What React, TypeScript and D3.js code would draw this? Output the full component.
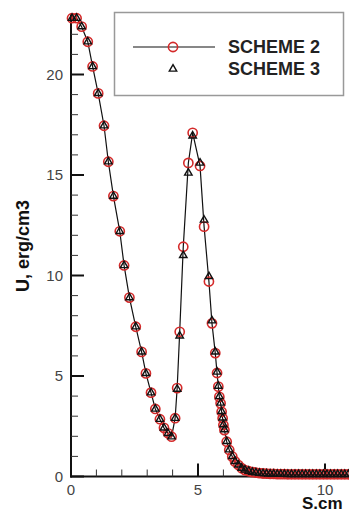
import React from "react";
import * as d3 from "d3";

const s2X = [0.04, 0.22, 0.42, 0.66, 0.85, 1.07, 1.3, 1.47, 1.67, 1.92, 2.09, 2.3, 2.55, 2.78, 2.95, 3.15, 3.32, 3.5, 3.66, 3.82, 3.96, 4.1, 4.18, 4.28, 4.42, 4.62, 4.79, 5.08, 5.24, 5.43, 5.55, 5.68, 5.75, 5.8, 5.84, 5.89, 5.93, 5.97, 6.0, 6.04, 6.13, 6.23, 6.35, 6.46, 6.59, 6.72, 6.85, 7.0, 7.14, 7.28, 7.42, 7.56, 7.7, 7.84, 7.98, 8.12, 8.26, 8.4, 8.54, 8.68, 8.82, 8.96, 9.1, 9.24, 9.38, 9.52, 9.66, 9.8, 9.94, 10.08, 10.22, 10.36, 10.5, 10.64, 10.78, 10.92];
const s2Y = [22.8, 22.8, 22.38, 21.63, 20.4, 19.06, 17.45, 15.66, 13.95, 12.2, 10.5, 8.9, 7.45, 6.2, 5.13, 4.17, 3.36, 2.85, 2.42, 2.15, 1.98, 2.9, 4.4, 7.2, 11.43, 15.6, 17.1, 15.45, 12.43, 9.7, 7.62, 6.14, 5.15, 4.47, 3.96, 3.64, 3.22, 2.9, 2.56, 2.31, 1.73, 1.32, 0.99, 0.74, 0.57, 0.41, 0.32, 0.26, 0.22, 0.19, 0.17, 0.15, 0.14, 0.13, 0.13, 0.12, 0.12, 0.12, 0.11, 0.11, 0.11, 0.11, 0.11, 0.11, 0.11, 0.11, 0.11, 0.11, 0.11, 0.11, 0.11, 0.11, 0.11, 0.11, 0.11, 0.11];
const s3Y = [22.8, 22.8, 22.38, 21.63, 20.4, 19.06, 17.45, 15.66, 13.95, 12.2, 10.5, 8.9, 7.45, 6.2, 5.13, 4.17, 3.36, 2.85, 2.42, 2.15, 1.98, 2.9, 4.35, 7.0, 11.0, 15.1, 16.95, 15.6, 12.76, 9.95, 7.75, 6.2, 5.2, 4.5, 3.98, 3.66, 3.24, 2.92, 2.58, 2.33, 1.75, 1.33, 1.0, 0.75, 0.58, 0.42, 0.33, 0.27, 0.22, 0.19, 0.17, 0.15, 0.14, 0.13, 0.13, 0.12, 0.12, 0.12, 0.11, 0.11, 0.11, 0.11, 0.11, 0.11, 0.11, 0.11, 0.11, 0.11, 0.11, 0.11, 0.11, 0.11, 0.11, 0.11, 0.11, 0.11];

const xMajor = [0, 5, 10];
const xMinor = [1, 2, 3, 4, 6, 7, 8, 9, 11];
const yMajor = [0, 5, 10, 15, 20];
const yMinor = [1, 2, 3, 4, 6, 7, 8, 9, 11, 12, 13, 14, 16, 17, 18, 19, 21, 22];
const legendLabels = ["SCHEME 2", "SCHEME 3"];

const W = 349, H = 514;
const RED = "#d42a2a";

export default function App() {
  const x = d3.scaleLinear().domain([0, 11]).range([71, 350.4]);
  const y = d3.scaleLinear().domain([0, 23]).range([476.5, 14.2]);
  const pts2 = s2X.map((s, i) => [s, s2Y[i]] as [number, number]);
  const pts3 = s2X.map((s, i) => [s, s3Y[i]] as [number, number]);
  const line = d3.line<[number, number]>().x(d => x(d[0])).y(d => y(d[1]));
  const tri = d3.symbol().type(d3.symbolTriangle).size(24)() as string;
  const font = "Liberation Sans, Arial, sans-serif";
  return (
    <svg width={W} height={H} style={{ position: "absolute", left: 0, top: 0 }}>
      <rect width={W} height={H} fill="#fff" />
      {/* axes */}
      <line x1={x(0)} x2={x(0)} y1={y(0) + 1} y2={y(23)} stroke="#111" strokeWidth={2} />
      <line x1={x(0) - 1} x2={W} y1={y(0)} y2={y(0)} stroke="#111" strokeWidth={2} />
      {yMajor.map(v => (
        <g key={"ym" + v}>
          <line x1={x(0)} x2={x(0) + 13} y1={y(v)} y2={y(v)} stroke="#111" strokeWidth={2} />
          <text x={63} y={y(v)} dy="0.36em" textAnchor="end" fontSize={15} fill="#444" fontFamily={font}>{v}</text>
        </g>
      ))}
      {yMinor.map(v => (
        <line key={"yn" + v} x1={x(0)} x2={x(0) + 7} y1={y(v)} y2={y(v)} stroke="#333" strokeWidth={1} />
      ))}
      {xMajor.map(v => (
        <g key={"xm" + v}>
          <line x1={x(v)} x2={x(v)} y1={y(0)} y2={y(0) - 13} stroke="#111" strokeWidth={2} />
          <text x={x(v)} y={495} textAnchor="middle" fontSize={15} fill="#444" fontFamily={font}>{v}</text>
        </g>
      ))}
      {xMinor.map(v => (
        <line key={"xn" + v} x1={x(v)} x2={x(v)} y1={y(0)} y2={y(0) - 7} stroke="#333" strokeWidth={1} />
      ))}
      {/* data */}
      <path d={line(pts2) || ""} fill="none" stroke="#111" strokeWidth={1.2} />
      {pts2.map((p, i) => (
        <circle key={"c" + i} cx={x(p[0])} cy={y(p[1])} r={4.6} fill="none" stroke={RED} strokeWidth={1.6} />
      ))}
      {pts3.map((p, i) => (
        <path key={"t" + i} d={tri} transform={`translate(${x(p[0])},${y(p[1])})`} fill="none" stroke="#111" strokeWidth={1.4} />
      ))}
      {/* labels */}
      <text transform={`translate(29,246) rotate(-90)`} textAnchor="middle" fontSize={18} fontWeight="bold" fill="#111" fontFamily={font}>U, erg/cm3</text>
      <text x={302} y={509} fontSize={17} fontWeight="bold" fill="#111" fontFamily={font}>S.cm</text>
      {/* legend */}
      <rect x={114.5} y={12.5} width={229} height={83} fill="#fff" stroke="#999" strokeWidth={1.5} />
      <line x1={133} x2={215} y1={47} y2={47} stroke="#111" strokeWidth={1.2} />
      <circle cx={173} cy={47} r={4.6} fill="none" stroke={RED} strokeWidth={1.6} />
      <path d={tri} transform="translate(173,69)" fill="none" stroke="#111" strokeWidth={1.4} />
      {legendLabels.map((l, i) => (
        <text key={l} x={228} y={53 + i * 22} fontSize={18} fontWeight="bold" fill="#222" fontFamily={font}>{l}</text>
      ))}
    </svg>
  );
}
